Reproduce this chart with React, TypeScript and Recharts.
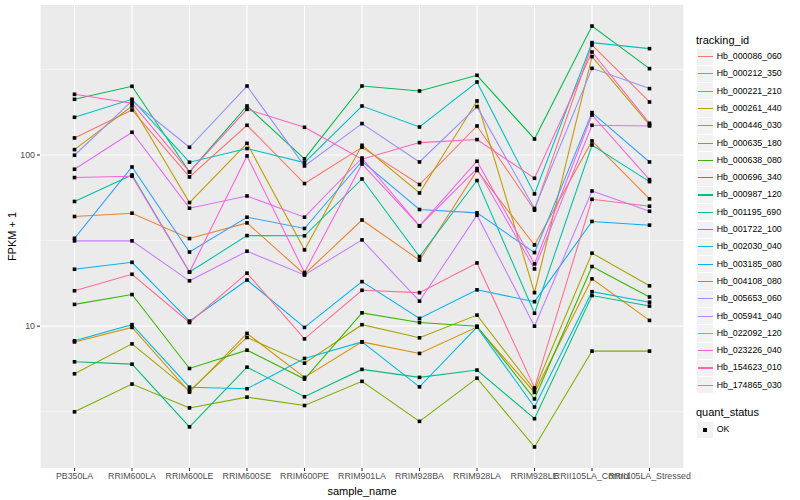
import React from 'react';
import { LineChart, Line, XAxis, YAxis, CartesianGrid, ReferenceLine } from 'recharts';

// sample names on the x axis
const samples = [
  'PB350LA', 'RRIM600LA', 'RRIM600LE', 'RRIM600SE', 'RRIM600PE', 'RRIM901LA',
  'RRIM928BA', 'RRIM928LA', 'RRIM928LE', 'RRII105LA_Control', 'RRII105LA_Stressed',
];

const trackingIds = [
  'Hb_000086_060', 'Hb_000212_350', 'Hb_000221_210', 'Hb_000261_440', 'Hb_000446_030',
  'Hb_000635_180', 'Hb_000638_080', 'Hb_000696_340', 'Hb_000987_120', 'Hb_001195_690',
  'Hb_001722_100', 'Hb_002030_040', 'Hb_003185_080', 'Hb_004108_080', 'Hb_005653_060',
  'Hb_005941_040', 'Hb_022092_120', 'Hb_023226_040', 'Hb_154623_010', 'Hb_174865_030',
];

// ggplot hue palette, 20 levels
const lineColors = [
  '#F8766D', '#EA8331', '#D89000', '#C09B00', '#A3A500', '#7CAE00', '#39B600', '#00BB4E',
  '#00BF7D', '#00C1A3', '#00BFC4', '#00BAE0', '#00B0F6', '#35A2FF', '#9590FF', '#C77CFF',
  '#E76BF3', '#FA62DB', '#FF62BC', '#FF6C91',
];

// FPKM + 1, one value per sample
const hb000086_060 = [125.7, 183.1, 74.4, 149.1, 68.1, 110.9, 67.2, 147.7, 47.6, 438.7, 203.9];
const hb000212_350 = [43.7, 45.7, 32.5, 40.1, 20.1, 41.7, 24.3, 81.1, 29.8, 120.7, 55.4];
const hb000221_210 = [8.09, 9.83, 4.12, 9.07, 5.02, 8.09, 6.93, 9.87, 4.1, 18.9, 10.8];
const hb000261_440 = [107.5, 193.2, 52.7, 117.0, 27.9, 113.9, 60.0, 206.7, 15.7, 375.3, 149.7];
const hb000446_030 = [5.27, 7.88, 4.19, 8.59, 6.08, 10.2, 8.55, 11.6, 4.25, 26.7, 17.2];
const hb000635_180 = [3.16, 4.59, 3.33, 3.85, 3.44, 4.76, 2.78, 4.97, 1.97, 7.15, 7.15];
const hb000638_080 = [13.4, 15.3, 5.66, 7.24, 4.91, 11.96, 10.5, 10.0, 3.76, 22.3, 14.8];
const hb000696_340 = [211.5, 251.8, 79.6, 193.2, 94.8, 252.8, 236.4, 292.0, 124.0, 566.3, 319.4];
const hb000987_120 = [6.19, 6.0, 2.58, 5.76, 3.87, 5.59, 5.02, 5.54, 2.88, 15.1, 13.1];
const hb001195_690 = [53.5, 76.4, 20.7, 33.8, 33.7, 72.4, 25.5, 70.9, 11.9, 114.4, 69.9];
const hb001722_100 = [166.0, 211.5, 90.7, 109.0, 90.3, 193.2, 145.7, 266.8, 59.2, 453.1, 417.9];
const hb002030_040 = [8.21, 10.2, 4.4, 4.31, 6.48, 8.09, 4.42, 9.87, 3.37, 15.9, 13.8];
const hb003185_080 = [21.5, 23.6, 10.7, 18.6, 9.83, 18.2, 11.1, 16.3, 13.9, 40.9, 38.9];
const hb004108_080 = [32.6, 85.1, 27.1, 43.3, 37.2, 91.9, 48.0, 45.9, 26.9, 176.8, 91.0];
const hb005653_060 = [99.6, 206.7, 110.9, 252.8, 86.3, 152.5, 91.0, 191.6, 48.7, 320.7, 244.1];
const hb005941_040 = [31.5, 31.5, 18.4, 27.4, 19.9, 31.9, 14.0, 44.5, 10.0, 61.6, 46.9];
const hb022092_120 = [82.5, 135.7, 48.9, 57.6, 43.3, 96.0, 38.5, 83.3, 21.6, 149.1, 147.7];
const hb023226_040 = [73.8, 75.1, 20.7, 98.7, 20.6, 88.6, 38.5, 91.9, 23.1, 171.2, 71.8];
const hb154623_010 = [226.1, 200.4, 79.6, 184.8, 145.1, 94.4, 118.1, 123.0, 73.1, 399.3, 153.1];
const hb174865_030 = [16.1, 20.1, 10.5, 20.4, 8.43, 16.2, 15.7, 23.4, 4.36, 55.1, 50.2];

const seriesValues = [
  hb000086_060, hb000212_350, hb000221_210, hb000261_440, hb000446_030,
  hb000635_180, hb000638_080, hb000696_340, hb000987_120, hb001195_690,
  hb001722_100, hb002030_040, hb003185_080, hb004108_080, hb005653_060,
  hb005941_040, hb022092_120, hb023226_040, hb154623_010, hb174865_030,
];

const yTicks = [10, 100];
const yMinor = [3.162, 31.62, 316.2];

const chartData = samples.map((sample, i) => {
  const row: Record<string, string | number> = { sample };
  trackingIds.forEach((id, k) => {
    row[id] = seriesValues[k][i];
  });
  return row;
});

const FONT = '"Liberation Sans", Arial, sans-serif';

const SquareDot = (props: any) => {
  const { cx, cy, index, dataKey } = props;
  if (cx == null || cy == null) return <g key={`${dataKey}-${index}`} />;
  return <rect key={`${dataKey}-${index}`} x={cx - 1.8} y={cy - 1.8} width={3.6} height={3.6} fill="#000000" />;
};

const KEY_TOP = 48;
const KEY_H = 17.3;

const App: React.FC = () => {
  return (
    <div style={{ position: 'absolute', left: 0, top: 0, width: 800, height: 500, background: '#fff', fontFamily: FONT }}>
      <LineChart width={800} height={500} data={chartData} margin={{ top: 5, right: 116, bottom: 0, left: 0 }}>
        <CartesianGrid fill="#EBEBEB" stroke="#FFFFFF" strokeWidth={1.07} horizontal={false} />
        {yMinor.map((v) => (
          <ReferenceLine key={`minor-${v}`} y={v} stroke="#FFFFFF" strokeWidth={0.55} ifOverflow="hidden" />
        ))}
        {yTicks.map((v) => (
          <ReferenceLine key={`major-${v}`} y={v} stroke="#FFFFFF" strokeWidth={1.07} />
        ))}
        <XAxis
          dataKey="sample"
          height={32}
          interval={0}
          padding={{ left: 34.5, right: 34.5 }}
          axisLine={false}
          tickSize={3}
          tickMargin={2}
          tickLine={{ stroke: '#333333', strokeWidth: 1.07 }}
          tick={{ fill: '#4D4D4D', fontSize: 8.8, fontFamily: FONT }}
          label={{ value: 'sample_name', position: 'insideBottom', offset: 5, fill: '#000000', fontSize: 11, fontFamily: FONT }}
        />
        <YAxis
          scale="log"
          domain={[1.484, 751.6]}
          ticks={yTicks}
          allowDataOverflow
          width={40}
          axisLine={false}
          tickSize={3}
          tickMargin={2}
          tickLine={{ stroke: '#333333', strokeWidth: 1.07 }}
          tick={{ fill: '#4D4D4D', fontSize: 8.8, fontFamily: FONT }}
          label={{
            content: () => (
              <text x={12} y={236.5} transform="rotate(-90 12 236.5)" textAnchor="middle" dominantBaseline="central" fontSize={11} fontFamily={FONT} fill="#000000">
                FPKM + 1
              </text>
            ),
          }}
        />
        {trackingIds.map((id, k) => (
          <Line
            key={id}
            type="linear"
            dataKey={id}
            stroke={lineColors[k]}
            strokeWidth={1.07}
            dot={false}
            activeDot={false}
            isAnimationActive={false}
          />
        ))}
        {trackingIds.map((id) => (
          <Line
            key={`pts-${id}`}
            type="linear"
            dataKey={id}
            stroke="none"
            dot={SquareDot}
            activeDot={false}
            legendType="none"
            isAnimationActive={false}
          />
        ))}
      </LineChart>

      {/* legends, drawn the way ggplot places them at the right */}
      <div style={{ position: 'absolute', left: 696, top: 34, fontSize: 11, lineHeight: '13px', color: '#000' }}>tracking_id</div>
      {trackingIds.map((id, k) => (
        <div key={`lg-${id}`} style={{ position: 'absolute', left: 697, top: KEY_TOP + k * KEY_H, height: KEY_H, width: 100 }}>
          <div style={{ position: 'absolute', left: 0, top: 0.5, width: 16.3, height: KEY_H - 1, background: '#F2F2F2' }} />
          <div style={{ position: 'absolute', left: 0.5, top: KEY_H / 2 - 0.55, width: 15.3, height: 1.1, background: lineColors[k] }} />
          <div style={{ position: 'absolute', left: 19.7, top: 0, height: KEY_H, lineHeight: `${KEY_H}px`, fontSize: 8.8, color: '#000', whiteSpace: 'nowrap' }}>{id}</div>
        </div>
      ))}
      <div style={{ position: 'absolute', left: 696, top: 405.5, fontSize: 11, lineHeight: '13px', color: '#000' }}>quant_status</div>
      <div style={{ position: 'absolute', left: 697, top: 421, height: KEY_H, width: 100 }}>
        <div style={{ position: 'absolute', left: 0, top: 0.5, width: 16.3, height: KEY_H - 1, background: '#F2F2F2' }} />
        <div style={{ position: 'absolute', left: 6.3, top: KEY_H / 2 - 1.9, width: 3.8, height: 3.8, background: '#000' }} />
        <div style={{ position: 'absolute', left: 19.7, top: 0, height: KEY_H, lineHeight: `${KEY_H}px`, fontSize: 8.8, color: '#000' }}>OK</div>
      </div>
    </div>
  );
};

export default App;
